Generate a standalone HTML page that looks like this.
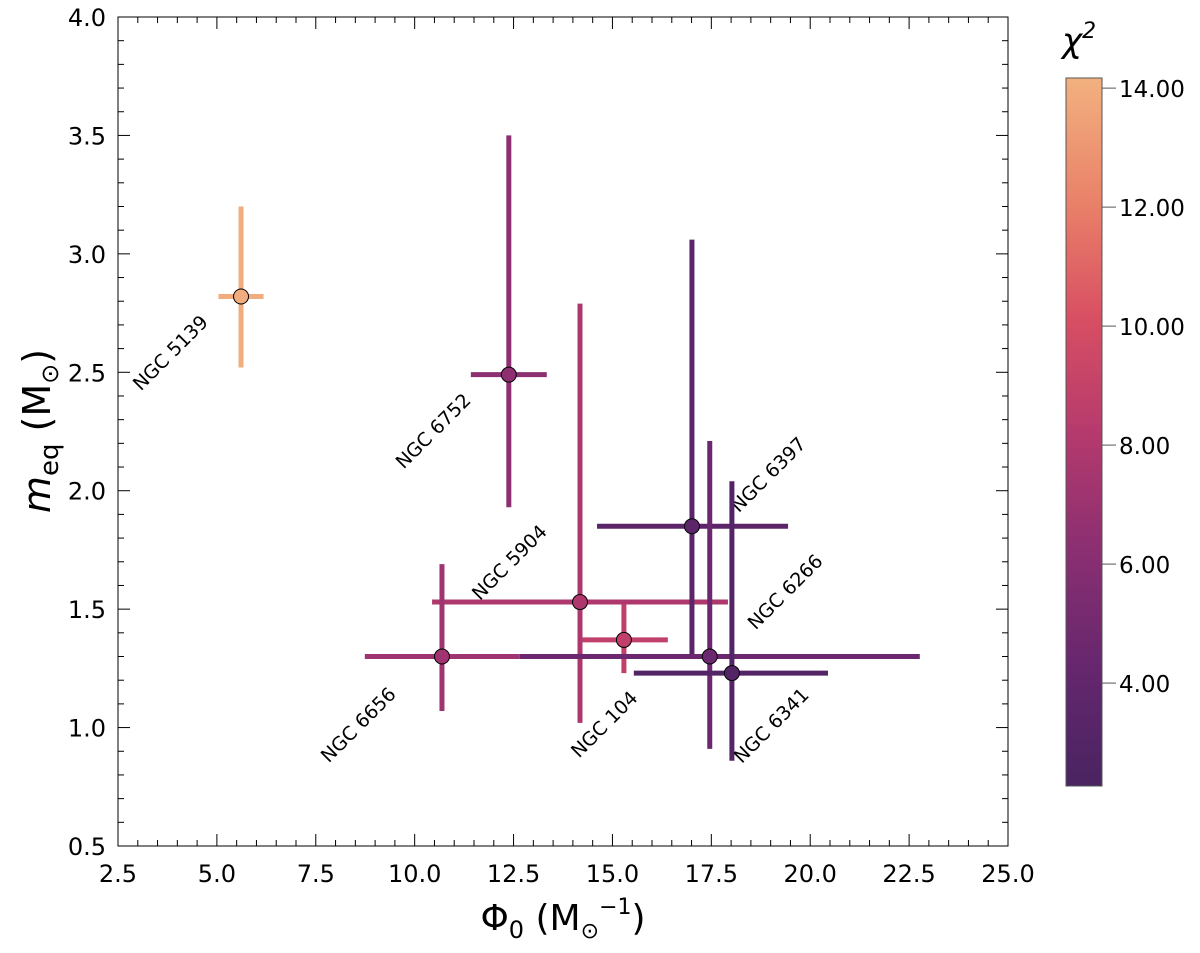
<!DOCTYPE html>
<html><head><meta charset="utf-8"><style>
html,body{margin:0;padding:0;background:#fff;}
svg text{font-family:"DejaVu Sans","Liberation Sans",sans-serif;}
</style></head><body>
<svg id="chart" width="1200" height="948" viewBox="0 0 1200 948" xmlns="http://www.w3.org/2000/svg">
<defs>
<linearGradient id="cbg" x1="0" y1="1" x2="0" y2="0">
<stop offset="0" stop-color="#4a2461"/>
<stop offset="0.15" stop-color="#62266d"/>
<stop offset="0.33" stop-color="#8a2f72"/>
<stop offset="0.5" stop-color="#b53a6d"/>
<stop offset="0.66" stop-color="#d84f63"/>
<stop offset="0.82" stop-color="#e98068"/>
<stop offset="1" stop-color="#f2b17f"/>
</linearGradient>
</defs>
<g id="plot"></g>
</svg>
<script>
const names=["NGC 5139","NGC 6752","NGC 5904","NGC 104","NGC 6656","NGC 6397","NGC 6266","NGC 6341"];
const phi0=[5.61,12.38,14.18,15.29,10.69,17.01,17.46,18.02];
const phiLo=[5.04,11.42,10.44,14.23,8.74,14.61,12.66,15.54];
const phiHi=[6.18,13.34,17.92,16.40,12.66,19.44,22.77,20.45];
const meq=[2.82,2.49,1.53,1.37,1.30,1.85,1.30,1.23];
const meqLo=[2.52,1.93,1.02,1.23,1.07,1.30,0.91,0.86];
const meqHi=[3.20,3.50,2.79,1.52,1.69,3.06,2.21,2.04];
const chi2=[14.0,6.3,7.9,8.8,7.2,3.6,4.6,3.0];
const xTicks=[2.5,5.0,7.5,10.0,12.5,15.0,17.5,20.0,22.5,25.0];
const yTicks=[0.5,1.0,1.5,2.0,2.5,3.0,3.5,4.0];
const cTicks=[4,6,8,10,12,14];
const labelDx=[-66,-71,-66,-15,-79,81,80,44];
const labelDy=[61,61,-35,89,73,-47,-60,57];

const NS="http://www.w3.org/2000/svg";
const g=document.getElementById('plot');
const L=118,R=1008,T=17,B=846;
const xS=v=>L+(v-2.5)/(25-2.5)*(R-L);
const yS=v=>B-(v-0.5)/(4-0.5)*(B-T);
const CB={x:1066,w:36,t:78,b:786,min:2.27,max:14.17};
const cS=v=>CB.b-(v-CB.min)/(CB.max-CB.min)*(CB.b-CB.t);
const stops=[[0,[0x4a,0x24,0x61]],[0.15,[0x62,0x26,0x6d]],[0.33,[0x8a,0x2f,0x72]],[0.5,[0xb5,0x3a,0x6d]],[0.66,[0xd8,0x4f,0x63]],[0.82,[0xe9,0x80,0x68]],[1,[0xf2,0xb1,0x7f]]];
function cmap(v){let t=(v-CB.min)/(CB.max-CB.min);t=Math.max(0,Math.min(1,t));
for(let i=1;i<stops.length;i++){if(t<=stops[i][0]){const a=stops[i-1],b=stops[i];const f=(t-a[0])/(b[0]-a[0]);
return 'rgb('+a[1].map((c,k)=>Math.round(c+(b[1][k]-c)*f)).join(',')+')';}}return 'rgb(242,177,127)';}
function el(tag,attrs,parent){const e=document.createElementNS(NS,tag);for(const k in attrs)e.setAttribute(k,attrs[k]);(parent||g).appendChild(e);return e;}

const fr=el('rect',{x:L,y:T,width:R-L,height:B-T,fill:'none',stroke:'#000','stroke-width':1});


xTicks.forEach((v,i)=>{const x=xS(v);
el('line',{x1:x,x2:x,y1:B,y2:B-12,stroke:'#000'});el('line',{x1:x,x2:x,y1:T,y2:T+12,stroke:'#000'});
if(i<xTicks.length-1){for(let m=1;m<5;m++){const xm=xS(v+m*0.5);el('line',{x1:xm,x2:xm,y1:B,y2:B-6,stroke:'#000'});el('line',{x1:xm,x2:xm,y1:T,y2:T+6,stroke:'#000'});}}
const t=el('text',{x:x,y:B+36,'text-anchor':'middle','font-size':24});t.textContent=v.toFixed(1);

});
yTicks.forEach((v,i)=>{const y=yS(v);
el('line',{x1:L,x2:L+12,y1:y,y2:y,stroke:'#000'});el('line',{x1:R,x2:R-12,y1:y,y2:y,stroke:'#000'});
if(i<yTicks.length-1){for(let m=1;m<5;m++){const ym=yS(v+m*0.1);el('line',{x1:L,x2:L+6,y1:ym,y2:ym,stroke:'#000'});el('line',{x1:R,x2:R-6,y1:ym,y2:ym,stroke:'#000'});}}
const t=el('text',{x:L-12,y:y+9,'text-anchor':'end','font-size':24});t.textContent=v.toFixed(1);

});
const xt=el('text',{x:563,y:930,'text-anchor':'middle','font-size':36});
xt.innerHTML='Φ<tspan font-size="24" dy="8">0</tspan><tspan dy="-8"> (M</tspan><tspan font-size="22" dy="8">⊙</tspan><tspan font-size="22" dy="-24">−1</tspan><tspan dy="16">)</tspan>';


const yt=el('text',{transform:'translate(50,431) rotate(-90)','text-anchor':'middle','font-size':38});
yt.innerHTML='<tspan font-style="italic">m</tspan><tspan font-size="26" dy="8">eq</tspan><tspan dy="-8"> (M</tspan><tspan font-size="24" dy="8">⊙</tspan><tspan dy="-8">)</tspan>';


names.forEach((n,i)=>{const c=cmap(chi2[i]);const x=xS(phi0[i]),y=yS(meq[i]);
const grp=el('g',{});


el('line',{x1:xS(phiLo[i]),x2:xS(phiHi[i]),y1:y,y2:y,stroke:c,'stroke-width':5},grp);
el('line',{x1:x,x2:x,y1:yS(meqLo[i]),y2:yS(meqHi[i]),stroke:c,'stroke-width':5},grp);
el('circle',{cx:x,cy:y,r:7.5,fill:c,stroke:'#000','stroke-width':1},grp);
const lx=x+labelDx[i],ly=y+labelDy[i];
const t=el('text',{x:lx,y:ly,'text-anchor':'middle','font-size':19,transform:'rotate(-45 '+lx+' '+ly+')'});t.textContent=n;

});
const cb=el('rect',{x:CB.x,y:CB.t,width:CB.w,height:CB.b-CB.t,fill:'url(#cbg)',stroke:'#555','stroke-width':1});


cTicks.forEach(v=>{const y=cS(v);el('line',{x1:CB.x+CB.w,x2:CB.x+CB.w+14,y1:y,y2:y,stroke:'#555'});
const t=el('text',{x:CB.x+CB.w+17,y:y+9,'font-size':23});t.textContent=v.toFixed(2);

});
const ct=el('text',{x:1062,y:52,'font-size':34,'font-style':'italic'});ct.innerHTML='χ<tspan font-size="22" dy="-14">2</tspan>';


</script>
</body></html>
